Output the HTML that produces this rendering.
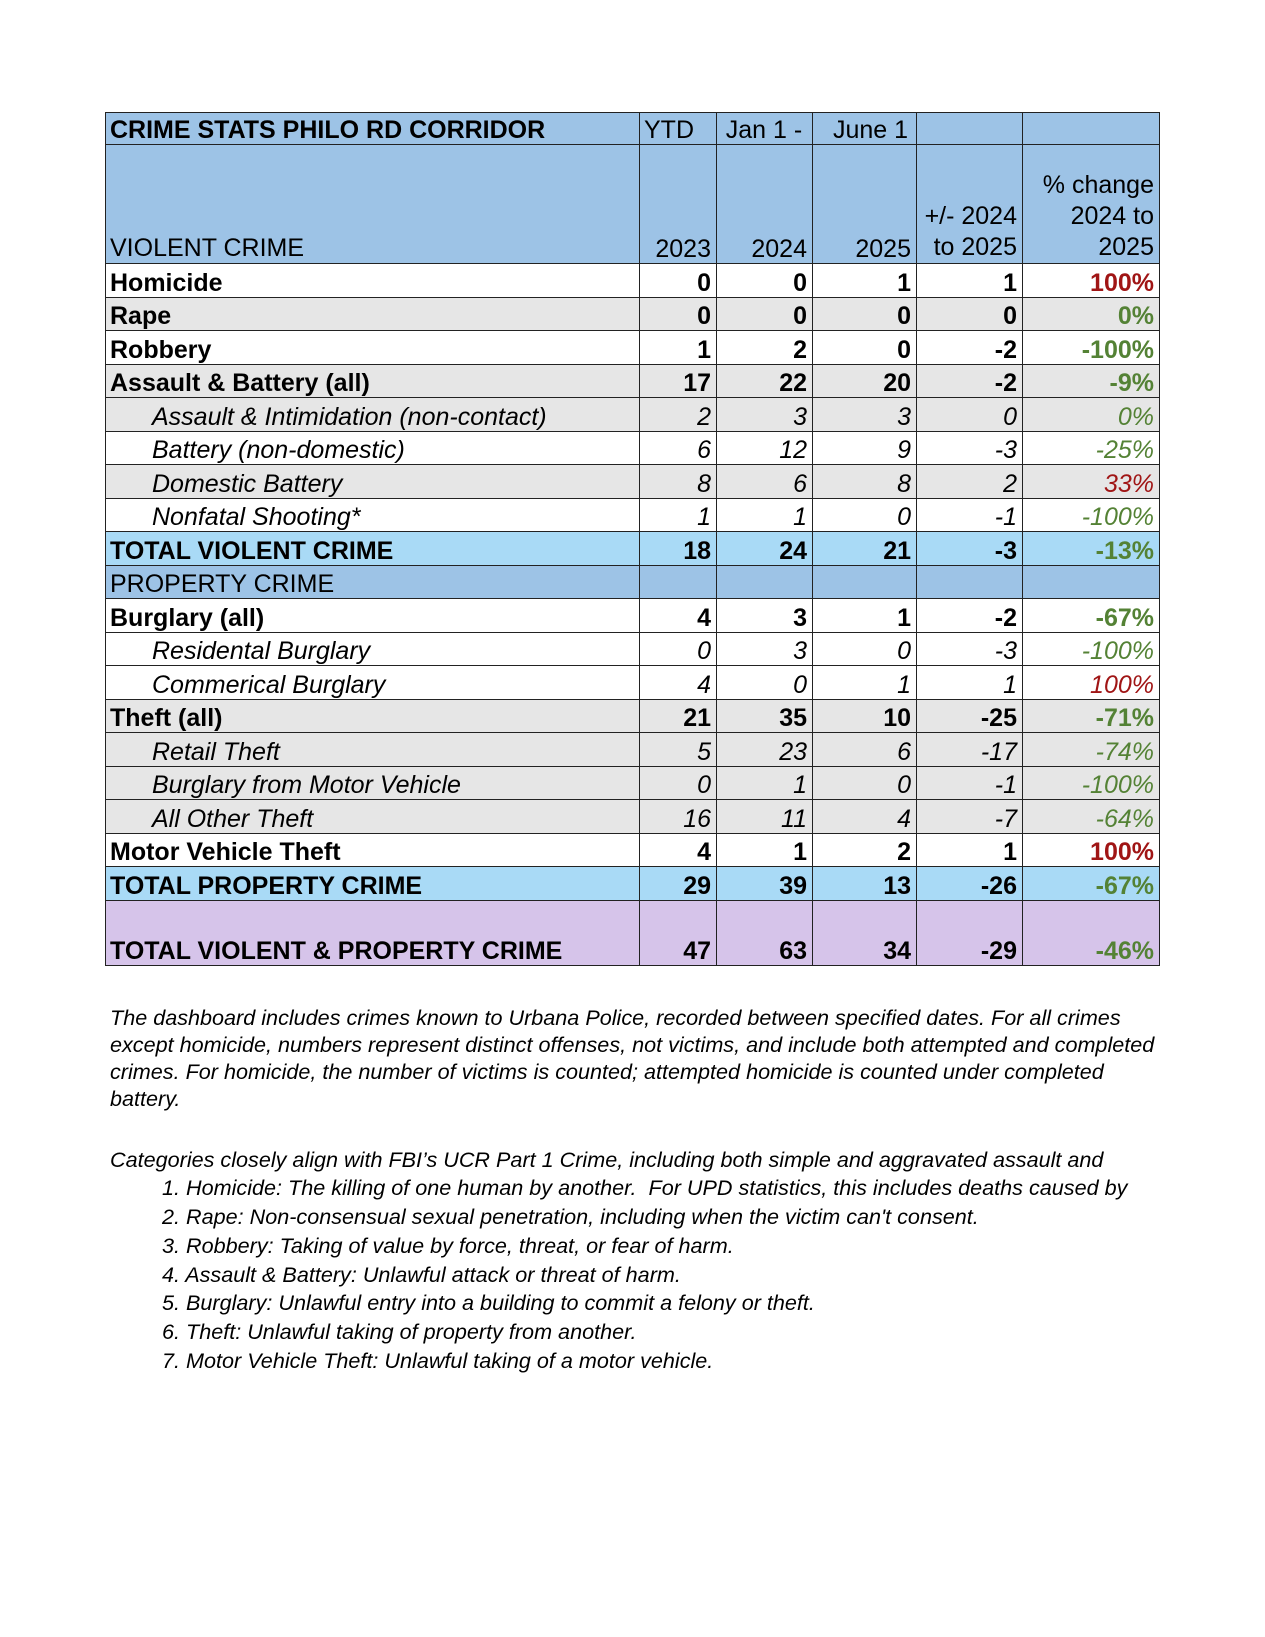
<!DOCTYPE html>
<html><head><meta charset="utf-8">
<style>
body{margin:0;background:#fff;width:1265px;height:1637px;position:relative;overflow:hidden;font-family:"Liberation Sans",Arial,sans-serif;color:#000}
table{position:absolute;left:105px;top:112px;border-collapse:collapse;table-layout:fixed;width:1054px;font-size:25px}
td{border:1.5px solid #222;padding:0 5px 0 4px;white-space:nowrap;overflow:hidden;text-align:right;vertical-align:bottom;line-height:27px}
td.l{text-align:left}
tr.r td{height:32.5px;font-weight:bold}
tr.s td{font-style:italic;font-weight:normal}
tr.s td.l{padding-left:46px}
.hb td{background:#9dc3e6}
.tb td{background:#a9daf6}
.g td{background:#e6e6e6}
.p td{background:#d6c4ea}
.red{color:#a01515}.grn{color:#548235}
.n{position:absolute;left:110px;font-style:italic;font-size:21.6px;white-space:nowrap}
.li{left:162px}
</style></head><body>
<table>
<colgroup><col style="width:534px"><col style="width:77px"><col style="width:96px"><col style="width:104px"><col style="width:106px"><col style="width:137px"></colgroup>
<tr class="hb" style="font-weight:bold"><td class="l" style="height:31px;font-weight:bold">CRIME STATS PHILO RD CORRIDOR</td><td class="l" style="font-weight:normal">YTD</td><td style="font-weight:normal;text-align:center">Jan 1 -</td><td class="l" style="font-weight:normal;padding-left:20px">June 1</td><td></td><td></td></tr>
<tr class="hb"><td class="l" style="height:117px;padding-bottom:1px">VIOLENT CRIME</td><td>2023</td><td>2024</td><td>2025</td><td style="line-height:31px">+/- 2024<br>to 2025</td><td style="line-height:31px">% change<br>2024 to<br>2025</td></tr>
<tr class="r"><td class="l">Homicide</td><td>0</td><td>0</td><td>1</td><td>1</td><td class="red">100%</td></tr>
<tr class="r g"><td class="l">Rape</td><td>0</td><td>0</td><td>0</td><td>0</td><td class="grn">0%</td></tr>
<tr class="r"><td class="l">Robbery</td><td>1</td><td>2</td><td>0</td><td>-2</td><td class="grn">-100%</td></tr>
<tr class="r g"><td class="l">Assault &amp; Battery (all)</td><td>17</td><td>22</td><td>20</td><td>-2</td><td class="grn">-9%</td></tr>
<tr class="r s g"><td class="l">Assault &amp; Intimidation (non-contact)</td><td>2</td><td>3</td><td>3</td><td>0</td><td class="grn">0%</td></tr>
<tr class="r s"><td class="l">Battery (non-domestic)</td><td>6</td><td>12</td><td>9</td><td>-3</td><td class="grn">-25%</td></tr>
<tr class="r s g"><td class="l">Domestic Battery</td><td>8</td><td>6</td><td>8</td><td>2</td><td class="red">33%</td></tr>
<tr class="r s"><td class="l">Nonfatal Shooting*</td><td>1</td><td>1</td><td>0</td><td>-1</td><td class="grn">-100%</td></tr>
<tr class="r tb"><td class="l">TOTAL VIOLENT CRIME</td><td>18</td><td>24</td><td>21</td><td>-3</td><td class="grn">-13%</td></tr>
<tr class="r hb"><td class="l" style="font-weight:normal">PROPERTY CRIME</td><td></td><td></td><td></td><td></td><td></td></tr>
<tr class="r"><td class="l">Burglary (all)</td><td>4</td><td>3</td><td>1</td><td>-2</td><td class="grn">-67%</td></tr>
<tr class="r s"><td class="l">Residental Burglary</td><td>0</td><td>3</td><td>0</td><td>-3</td><td class="grn">-100%</td></tr>
<tr class="r s"><td class="l">Commerical Burglary</td><td>4</td><td>0</td><td>1</td><td>1</td><td class="red">100%</td></tr>
<tr class="r g"><td class="l">Theft (all)</td><td>21</td><td>35</td><td>10</td><td>-25</td><td class="grn">-71%</td></tr>
<tr class="r s g"><td class="l">Retail Theft</td><td>5</td><td>23</td><td>6</td><td>-17</td><td class="grn">-74%</td></tr>
<tr class="r s g"><td class="l">Burglary from Motor Vehicle</td><td>0</td><td>1</td><td>0</td><td>-1</td><td class="grn">-100%</td></tr>
<tr class="r s g"><td class="l">All Other Theft</td><td>16</td><td>11</td><td>4</td><td>-7</td><td class="grn">-64%</td></tr>
<tr class="r"><td class="l">Motor Vehicle Theft</td><td>4</td><td>1</td><td>2</td><td>1</td><td class="red">100%</td></tr>
<tr class="r tb"><td class="l">TOTAL PROPERTY CRIME</td><td>29</td><td>39</td><td>13</td><td>-26</td><td class="grn">-67%</td></tr>
<tr class="r p"><td class="l" style="height:64px">TOTAL VIOLENT &amp; PROPERTY CRIME</td><td>47</td><td>63</td><td>34</td><td>-29</td><td class="grn">-46%</td></tr>
</table>
<div>
<div class="n" style="top:1005px">The dashboard includes crimes known to Urbana Police, recorded between specified dates. For all crimes</div>
<div class="n" style="top:1032px">except homicide, numbers represent distinct offenses, not victims, and include both attempted and completed</div>
<div class="n" style="top:1059px">crimes. For homicide, the number of victims is counted; attempted homicide is counted under completed</div>
<div class="n" style="top:1086px">battery.</div>
</div>
<div>
<div class="n" style="top:1147px">Categories closely align with FBI’s UCR Part 1 Crime, including both simple and aggravated assault and</div>
<div class="n li" style="top:1175px">1. Homicide: The killing of one human by another.&nbsp; For UPD statistics, this includes deaths caused by</div>
<div class="n li" style="top:1204px">2. Rape: Non-consensual sexual penetration, including when the victim can't consent.</div>
<div class="n li" style="top:1233px">3. Robbery: Taking of value by force, threat, or fear of harm.</div>
<div class="n li" style="top:1262px">4. Assault &amp; Battery: Unlawful attack or threat of harm.</div>
<div class="n li" style="top:1290px">5. Burglary: Unlawful entry into a building to commit a felony or theft.</div>
<div class="n li" style="top:1319px">6. Theft: Unlawful taking of property from another.</div>
<div class="n li" style="top:1348px">7. Motor Vehicle Theft: Unlawful taking of a motor vehicle.</div>
</div>
</body></html>
